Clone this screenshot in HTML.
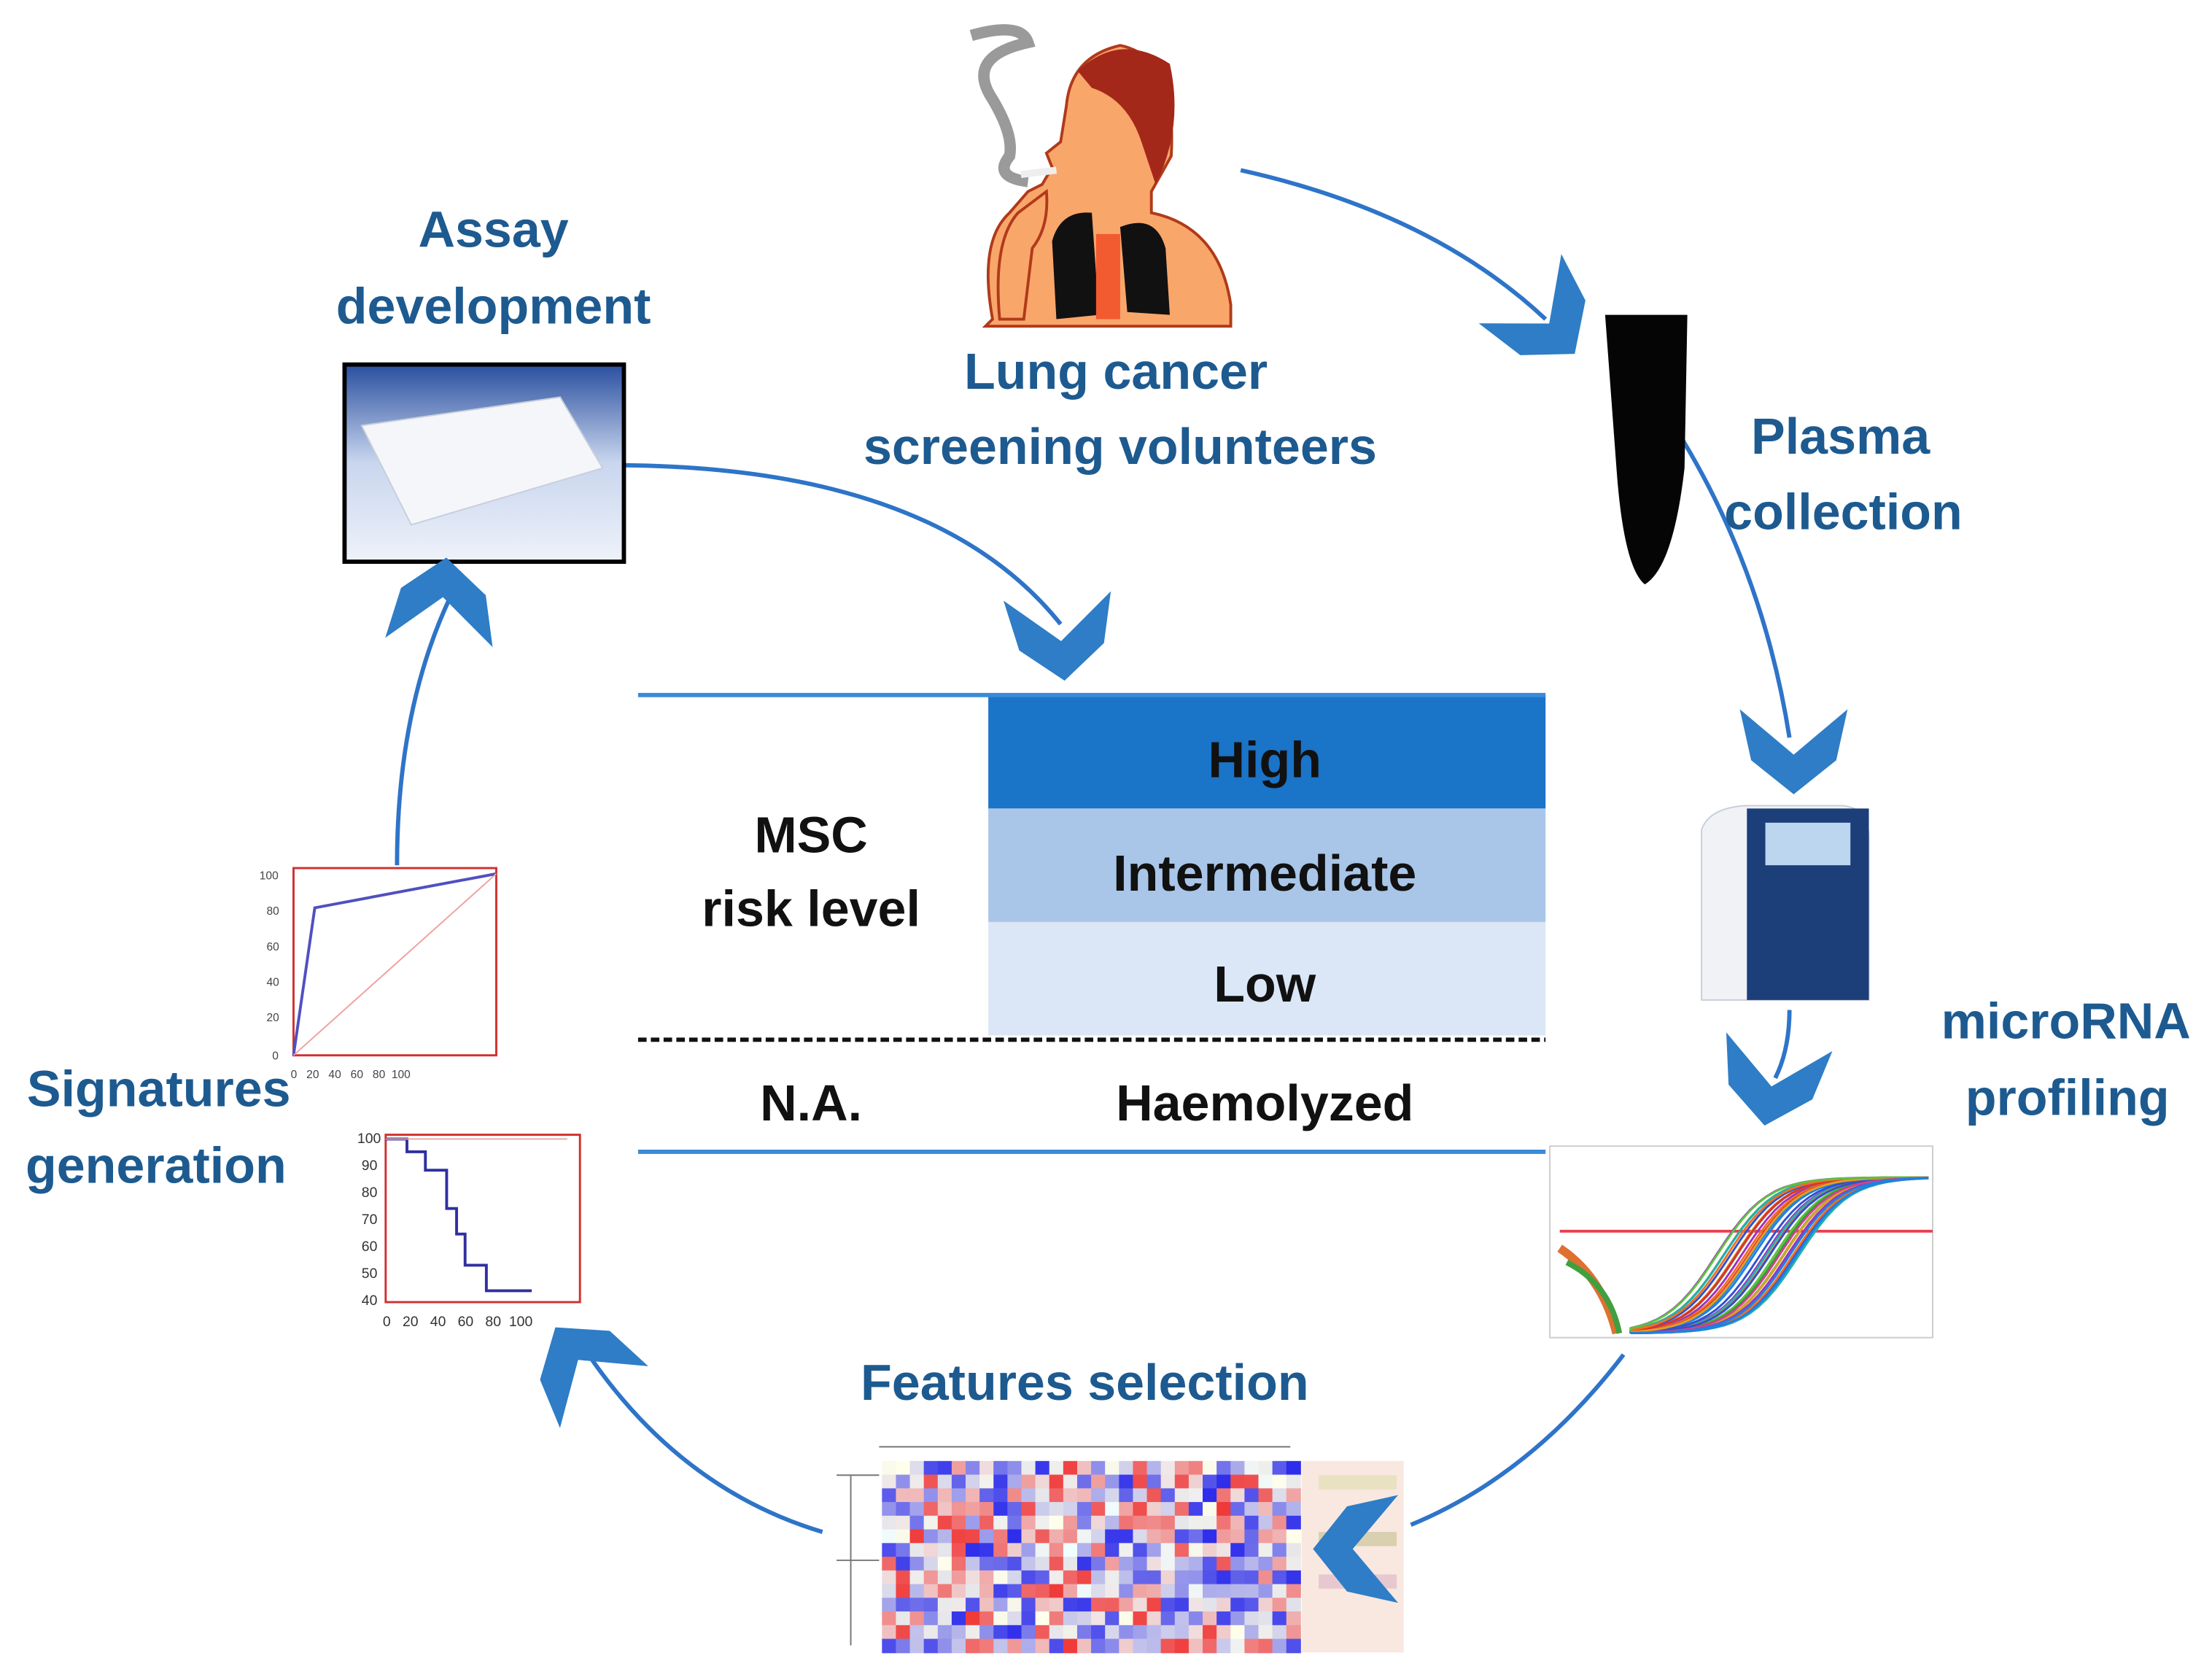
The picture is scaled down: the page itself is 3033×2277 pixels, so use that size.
<!DOCTYPE html>
<html><head><meta charset="utf-8"><style>
html,body{margin:0;padding:0;background:#fff;}
svg{display:block;}
.lb{font-family:"Liberation Sans",sans-serif;font-weight:bold;fill:#1d5a90;font-size:36px;text-anchor:middle;}
.tb{font-family:"Liberation Sans",sans-serif;font-weight:bold;fill:#111;font-size:36px;text-anchor:middle;}
</style></head><body>
<svg id="s" width="3033" height="2277" viewBox="0 0 1560 1171" preserveAspectRatio="none" xmlns="http://www.w3.org/2000/svg">
<defs>
<linearGradient id="pg" x1="0" y1="0" x2="0" y2="1"><stop offset="0" stop-color="#2a4fa0"/><stop offset="0.5" stop-color="#c9d6ee"/><stop offset="1" stop-color="#eef2fa"/></linearGradient>
<g id="chev"><polygon points="-38,-28 0,4 38,-28 30,8 0,32 -30,8" fill="#2e7dc6"/></g>
</defs>
<!-- connectors -->
<g fill="none" stroke="#2e74c8" stroke-width="3">
<path d="M875,120 Q1010,150 1090,225"/>
<path d="M1160,270 Q1240,380 1262,520"/>
<path d="M1262,712 Q1262,740 1252,760"/>
<path d="M1145,955 Q1080,1040 995,1075"/>
<path d="M580,1080 Q480,1050 415,955"/>
<path d="M280,610 Q280,500 318,420"/>
<path d="M440,328 Q660,330 748,440"/>
</g>
<!-- table -->
<rect x="697" y="490" width="393" height="80" fill="#1a74c8"/>
<rect x="697" y="570" width="393" height="80" fill="#a9c6e9"/>
<rect x="697" y="650" width="393" height="80" fill="#dbe7f6"/>
<line x1="450" y1="490" x2="1090" y2="490" stroke="#3a8ad8" stroke-width="3"/>
<line x1="450" y1="733" x2="1090" y2="733" stroke="#111" stroke-width="3" stroke-dasharray="6,3"/>
<line x1="450" y1="812" x2="1090" y2="812" stroke="#3a8ad8" stroke-width="3"/>
<text class="tb" x="892" y="548">High</text>
<text class="tb" x="892" y="628">Intermediate</text>
<text class="tb" x="892" y="706">Low</text>
<text class="tb" x="572" y="601">MSC</text>
<text class="tb" x="572" y="653">risk level</text>
<text class="tb" x="572" y="790">N.A.</text>
<text class="tb" x="892" y="790">Haemolyzed</text>
<!-- labels -->
<text class="lb" x="348" y="174">Assay</text>
<text class="lb" x="348" y="228">development</text>
<text class="lb" x="787" y="274">Lung cancer</text>
<text class="lb" x="790" y="327">screening volunteers</text>
<text class="lb" x="1298" y="320">Plasma</text>
<text class="lb" x="1300" y="373">collection</text>
<text class="lb" x="1457" y="732">microRNA</text>
<text class="lb" x="1458" y="786">profiling</text>
<text class="lb" x="765" y="987">Features selection</text>
<text class="lb" x="112" y="780">Signatures</text>
<text class="lb" x="110" y="834">generation</text>
<!-- plate -->
<rect x="243" y="257" width="197" height="139" fill="url(#pg)" stroke="#000" stroke-width="3"/>
<polygon points="255,300 395,280 425,330 290,370" fill="#f4f6fa" stroke="#c8cfdc"/>
<!-- person -->
<path d="M685,25 Q720,15 725,30 Q680,40 700,70 Q715,95 712,110 Q700,125 725,128" fill="none" stroke="#9a9a9a" stroke-width="8"/>
<path d="M700,225 Q690,170 712,150 L725,135 L735,130 L742,118 L738,108 L748,100 L752,75 Q755,40 790,32 Q830,40 826,110 L812,135 L812,150 Q860,160 868,215 L868,230 L695,230 Z" fill="#f9a66b" stroke="#b03a1a" stroke-width="2"/>
<path d="M705,225 Q700,170 718,150 L738,135 Q740,160 728,175 L722,225 Z" fill="#f9a66b" stroke="#b03a1a" stroke-width="2"/>
<path d="M760,50 Q790,22 825,45 Q835,90 815,130 L805,100 Q795,70 770,62 Z" fill="#a3281a"/>
<path d="M742,170 Q748,148 770,150 L775,222 L745,225 Z" fill="#111"/>
<path d="M790,160 Q815,150 822,175 L825,222 L795,220 Z" fill="#111"/>
<rect x="773" y="165" width="17" height="60" fill="#f25a30"/>
<line x1="720" y1="123" x2="745" y2="120" stroke="#eee" stroke-width="5"/>
<!-- tube -->
<path d="M1132,222 L1190,222 L1188,330 Q1180,400 1160,412 Q1145,400 1140,330 Z" fill="#050505"/>
<!-- machine -->
<path d="M1200,585 Q1205,570 1230,568 L1300,568 Q1318,570 1318,590 L1318,705 L1200,705 Z" fill="#f0f2f6" stroke="#c9ced8"/>
<rect x="1232" y="570" width="86" height="135" fill="#1c3f7a"/>
<rect x="1245" y="580" width="60" height="30" fill="#bcd6f0"/>
<!-- amplification plot -->
<g id="amp">
<rect x="1093" y="808" width="270" height="135" fill="#fff" stroke="#ccc"/>
<line x1="1100" y1="868" x2="1363" y2="868" stroke="#e84050" stroke-width="2"/>
<path d="M1100,880 Q1130,900 1140,940" fill="none" stroke="#e07030" stroke-width="6"/>
<path d="M1105,890 Q1135,905 1142,940" fill="none" stroke="#40a040" stroke-width="4"/>
</g>
<!-- heatmap -->
<g id="hm"></g>
<rect x="918" y="1030" width="72" height="135" fill="#f8e8e0"/>
<rect x="930" y="1040" width="55" height="10" fill="#e9e2c0"/>
<rect x="930" y="1080" width="55" height="10" fill="#d8d0b0"/>
<rect x="930" y="1110" width="55" height="10" fill="#e8c8d0"/>
<path d="M590,1040 L620,1040 M600,1040 L600,1160 M590,1100 L620,1100 M620,1020 L910,1020" stroke="#777" fill="none"/>
<!-- ROC -->
<rect x="207" y="612" width="143" height="132" fill="#fff" stroke="#d03030" stroke-width="1.5"/>
<polyline points="207,744 222,640 350,616" fill="none" stroke="#5050c0" stroke-width="2"/>
<line x1="207" y1="744" x2="350" y2="616" stroke="#f0a0a0"/>
<g font-family="Liberation Sans" font-size="8" fill="#444">
<text x="183" y="620">100</text><text x="188" y="645">80</text><text x="188" y="670">60</text><text x="188" y="695">40</text><text x="188" y="720">20</text><text x="192" y="747">0</text>
<text x="205" y="760">0 &#160; 20 &#160; 40 &#160; 60 &#160; 80 &#160;100</text>
</g>
<!-- survival -->
<rect x="272" y="800" width="137" height="118" fill="#fff" stroke="#d03030" stroke-width="1.5"/>
<polyline points="272,803 287,803 287,812 300,812 300,825 315,825 315,852 322,852 322,870 328,870 328,892 343,892 343,910 375,910" fill="none" stroke="#3030a0" stroke-width="2"/>
<line x1="272" y1="803" x2="400" y2="803" stroke="#f0a0a0"/>
<g font-family="Liberation Sans" font-size="10" fill="#333">
<text x="252" y="806">100</text><text x="255" y="825">90</text><text x="255" y="844">80</text><text x="255" y="863">70</text><text x="255" y="882">60</text><text x="255" y="901">50</text><text x="255" y="920">40</text>
<text x="270" y="935">0 &#160; 20 &#160; 40 &#160; 60 &#160; 80 &#160;100</text>
</g>
<!-- chevrons on top -->
<use href="#chev" transform="translate(1090,225) rotate(-40)"/>
<use href="#chev" transform="translate(1265,528)"/>
<use href="#chev" transform="translate(1250,762) rotate(10)"/>
<use href="#chev" transform="translate(958,1092) rotate(90)"/>
<use href="#chev" transform="translate(410,962) rotate(145)"/>
<use href="#chev" transform="translate(312,425) rotate(185)"/>
<use href="#chev" transform="translate(748,448) rotate(-5)"/>
</svg>
<script>
(function(){
var ns="http://www.w3.org/2000/svg";
var hm=document.getElementById("hm");var seed=7;
function r(){seed=(seed*9301+49297)%233280;return seed/233280;}
var cw=295/30,ch=135/14;
for(var i=0;i<30;i++)for(var j=0;j<14;j++){
var v=r()*2-1;var c;
if(v>0){var k=Math.round(255-v*200);c="rgb(240,"+k+","+k+")";}else{var k=Math.round(255+v*210);c="rgb("+k+","+k+",235)";}
var e=document.createElementNS(ns,"rect");e.setAttribute("x",622+i*cw);e.setAttribute("y",1030+j*ch);
e.setAttribute("width",cw+0.5);e.setAttribute("height",ch+0.5);e.setAttribute("fill",c);hm.appendChild(e);}
var amp=document.getElementById("amp");
var cols=["#e03030","#30a030","#3050d0","#e0a020","#a030c0","#20b0b0","#f07020","#60c040","#d04090","#2080e0"];
for(var n=0;n<40;n++){var x0=1170+r()*60;var d="M1150,940";
for(var x=1150;x<=1363;x+=6){var y=940-110/(1+Math.exp(-(x-x0-40)/18));d+=" L"+x+","+y.toFixed(1);}
var p=document.createElementNS(ns,"path");p.setAttribute("d",d);p.setAttribute("fill","none");
p.setAttribute("stroke",cols[n%10]);p.setAttribute("stroke-width","1.5");amp.appendChild(p);}
})();
</script>
</body></html>
